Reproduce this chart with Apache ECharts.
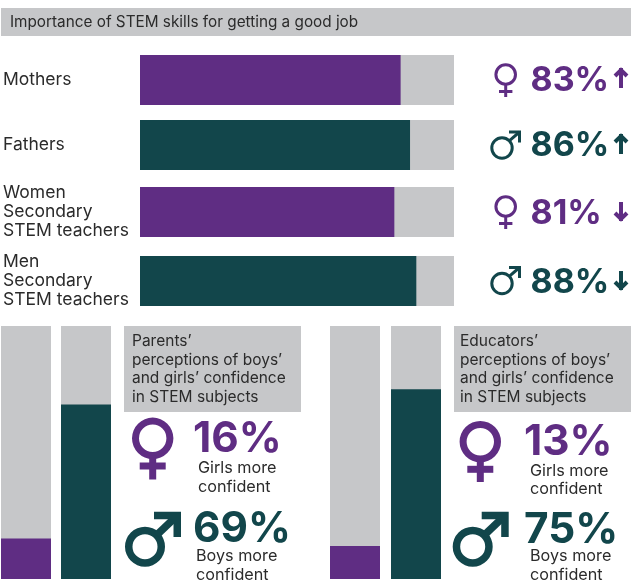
<!DOCTYPE html>
<html>
<head>
<meta charset="utf-8">
<style>html,body{margin:0;padding:0;background:#fff}#chart{width:631px;height:581px}</style>
<script src="https://cdn.jsdelivr.net/npm/echarts@6/dist/echarts.min.js"></script>
</head>
<body>
<div id="chart"></div>
<script>
// Survey figures
var rowLabels = ['Mothers', 'Fathers', 'Women\nSecondary\nSTEM teachers', 'Men\nSecondary\nSTEM teachers'];
var rowValues = [83, 86, 81, 88];
var rowGenders = ['f', 'm', 'f', 'm'];
var rowTrends = ['up', 'up', 'down', 'down'];
var parentValues = [16, 69];
var educatorValues = [13, 75];
var titleText = 'Importance of STEM skills for getting a good job';
var parentsHeading = 'Parents’\nperceptions of boys’\nand girls’ confidence\nin STEM subjects';
var educatorsHeading = 'Educators’\nperceptions of boys’\nand girls’ confidence\nin STEM subjects';
var girlsCaption = 'Girls more\nconfident';
var boysCaption = 'Boys more\nconfident';

var PURPLE = '#5f2d83', TEAL = '#12464b', GREY = '#c6c7c9', INK = '#2b2b2b';
var FONT = 'Inter';

var colourOf = function (g) { return g === 'f' ? PURPLE : TEAL; };

var grids = [], xAxes = [], yAxes = [], series = [];

function addBar(grid, category, value, colour, horizontal, labelled) {
  var idx = grids.length;
  grids.push(Object.assign({ containLabel: false }, grid));
  var valueAxis = { type: 'value', gridIndex: idx, min: 0, max: 100, show: false };
  var catAxis = {
    type: 'category', gridIndex: idx, data: [category],
    axisLine: { show: false }, axisTick: { show: false },
    axisLabel: labelled ? {
      show: true, align: 'left', margin: 137, color: INK, padding: [2, 0, 0, 0],
      fontFamily: FONT, fontSize: 17.5, lineHeight: 19
    } : { show: false }
  };
  xAxes.push(horizontal ? valueAxis : catAxis);
  yAxes.push(horizontal ? catAxis : valueAxis);
  var common = {
    type: 'bar', xAxisIndex: idx, yAxisIndex: idx, barWidth: '100%',
    barGap: '-100%', silent: true, animation: false
  };
  series.push(Object.assign({}, common, { data: [100], itemStyle: { color: GREY } }));
  series.push(Object.assign({}, common, { data: [value], itemStyle: { color: colour } }));
}

// Horizontal rows
var rowTops = [55, 120, 187, 256];
rowLabels.forEach(function (label, i) {
  addBar({ left: 138, top: rowTops[i], width: 316, height: 50 }, label, rowValues[i], colourOf(rowGenders[i]), true, true);
});

// Vertical pairs
[[1, parentValues[0], PURPLE], [61, parentValues[1], TEAL],
 [330, educatorValues[0], PURPLE], [391, educatorValues[1], TEAL]].forEach(function (b) {
  addBar({ left: b[0], top: 326, width: 50, height: 253 }, '', b[1], b[2], false, false);
});

var graphics = [];

function text(x, y, str, size, colour, weight, lineHeight) {
  graphics.push({
    type: 'text', x: x, y: y, silent: true,
    style: {
      text: str, fill: colour, fontFamily: FONT, fontSize: size,
      fontWeight: weight || 400, lineHeight: lineHeight || size,
      textAlign: 'left', textVerticalAlign: 'top'
    }
  });
}
function box(x, y, w, h) {
  graphics.push({ type: 'rect', silent: true, shape: { x: x, y: y, width: w, height: h }, style: { fill: GREY } });
}
function stroke(points, width, colour) {
  graphics.push({
    type: 'polyline', silent: true, shape: { points: points },
    style: { stroke: colour, lineWidth: width, fill: null, lineCap: 'butt', lineJoin: 'miter' }
  });
}
function ring(cx, cy, r, width, colour) {
  graphics.push({ type: 'ring', silent: true, shape: { cx: cx, cy: cy, r: r, r0: r - width }, style: { fill: colour } });
}
function femaleSign(cx, cy, r, w, barY, barHalf, bottom) {
  ring(cx, cy, r, w, PURPLE);
  stroke([[cx, cy + r - w / 2], [cx, bottom]], w, PURPLE);
  stroke([[cx - barHalf, barY], [cx + barHalf, barY]], w, PURPLE);
}
function maleSign(cx, cy, r, w, tipX, tipY, headLeft, headBottom) {
  ring(cx, cy, r, w, TEAL);
  var k = (r - w / 2) * Math.SQRT1_2;
  stroke([[cx + k, cy - k], [tipX - w / 2, tipY + w / 2]], w, TEAL);
  stroke([[headLeft, tipY + w / 2], [tipX - w / 2, tipY + w / 2], [tipX - w / 2, headBottom]], w, TEAL);
}
function trendArrow(cx, top, bottom, dir, colour) {
  var w = 4, half = 6;
  stroke([[cx, top], [cx, bottom]], w, colour);
  if (dir === 'up') stroke([[cx - half, top + half + 2], [cx, top + 2], [cx + half, top + half + 2]], w, colour);
  else stroke([[cx - half, bottom - half - 2], [cx, bottom - 2], [cx + half, bottom - half - 2]], w, colour);
}

// Title band
box(1, 8, 630, 28);
text(10, 14.5, titleText, 15.3, INK);

// Row readouts
var rowTextY = [63.5, 129, 196.5, 266];
var arrowSpans = [[68, 88], [134, 154], [202, 221], [271, 290]];
var signY = [74.5, 148, 206.5, 283.5];
rowValues.forEach(function (v, i) {
  var c = colourOf(rowGenders[i]);
  text(530.5, rowTextY[i], v + '%', 34, c, 700);
  trendArrow(621, arrowSpans[i][0], arrowSpans[i][1], rowTrends[i], c);
  if (rowGenders[i] === 'f') femaleSign(505.7, signY[i], 11.3, 3, signY[i] + 17, 6.7, signY[i] + 22.5);
  else maleSign(502, signY[i], 11.7, 3, 521, signY[i] - 17.5, 509, signY[i] - 5.5);
});

// Confidence panels
box(124, 326, 177, 86);
text(132, 332, parentsHeading, 15.5, INK, 400, 18.7);
femaleSign(152.7, 438.3, 20.7, 7, 466, 13, 479.5);
text(193, 418.5, parentValues[0] + '%', 42.3, PURPLE, 700);
text(198, 459, girlsCaption, 16.2, INK, 400, 18.6);
maleSign(145, 546.7, 20, 7.5, 181, 511.7, 154, 537);
text(193, 508, parentValues[1] + '%', 42.3, TEAL, 700);
text(196, 547, boysCaption, 16.2, INK, 400, 18.6);

box(454, 326, 177, 86);
text(460, 332, educatorsHeading, 15.5, INK, 400, 18.7);
femaleSign(480.3, 441.7, 20.7, 7, 469.3, 13, 482);
text(524, 421, educatorValues[0] + '%', 42.3, PURPLE, 700);
text(530, 461.5, girlsCaption, 16.2, INK, 400, 18.6);
maleSign(472.7, 546.7, 20, 7.5, 508.7, 511.7, 481.7, 537);
text(524, 509, educatorValues[1] + '%', 42.3, TEAL, 700);
text(530, 547, boysCaption, 16.2, INK, 400, 18.6);

var chart = echarts.init(document.getElementById('chart'), null, { renderer: 'canvas' });
chart.setOption({
  backgroundColor: '#fff',
  animation: false,
  tooltip: { show: false },
  grid: grids, xAxis: xAxes, yAxis: yAxes, series: series,
  graphic: { elements: graphics }
});
</script>
</body>
</html>
